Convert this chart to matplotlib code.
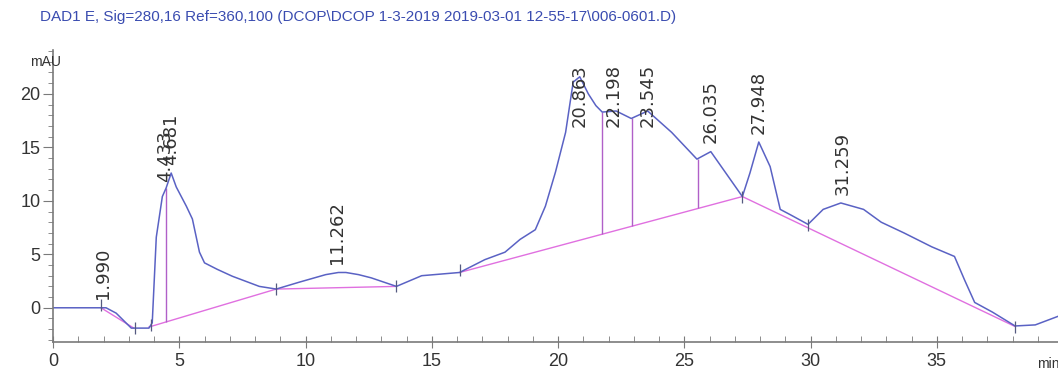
import numpy as np
import matplotlib
matplotlib.use("Agg")
import matplotlib.pyplot as plt
from matplotlib import font_manager

# signal trace (min, mAU)
time = [0, 1.0, 2.1, 2.5, 3.1, 3.8, 3.93, 4.09, 4.33, 4.48, 4.68, 4.88, 5.28, 5.52,
        5.8, 6.0, 6.5, 7.1, 8.17, 8.84, 9.76, 10.8, 11.3, 11.6, 12.1, 12.6, 13.6,
        14.6, 16.1, 17.1, 17.9, 18.5, 19.1, 19.5, 19.9, 20.3, 20.6, 20.86, 21.2,
        21.5, 21.75, 22.3, 22.9, 23.55, 24.5, 25.5, 26.05, 27.3, 27.6, 27.95, 28.4,
        28.8, 29.2, 29.9, 30.5, 31.2, 32.1, 32.8, 33.7, 34.8, 35.7, 36.1, 36.5,
        37.2, 38.1, 38.9, 39.8]
mau = [0, 0, 0, -0.5, -1.9, -1.9, -1.4, 6.6, 10.4, 11.2, 12.6, 11.3, 9.5, 8.3,
       5.2, 4.2, 3.6, 2.95, 2.0, 1.75, 2.4, 3.1, 3.3, 3.3, 3.1, 2.8, 2.0,
       3.0, 3.3, 4.5, 5.2, 6.4, 7.3, 9.5, 12.7, 16.4, 21.1, 21.6, 20.0,
       18.9, 18.3, 18.4, 17.7, 18.4, 16.4, 13.9, 14.6, 10.4, 12.6, 15.5, 13.2,
       9.2, 8.7, 7.8, 9.2, 9.8, 9.2, 8.0, 7.0, 5.7, 4.8, 2.6, 0.5,
       -0.4, -1.7, -1.6, -0.8]

# integration baselines
base_t0 = [1.9, 3.8, 8.84, 16.1, 27.3]
base_t1 = [3.2, 8.84, 13.6, 27.3, 38.1]
base_y0 = [0.0, -1.8, 1.75, 3.3, 10.4]
base_y1 = [-1.9, 1.75, 2.0, 10.4, -1.75]

# drop lines between fused peaks
drop_t = [4.48, 21.75, 22.94, 25.55]
drop_lo = [-1.3, 6.9, 7.65, 9.3]
drop_hi = [11.2, 18.3, 17.7, 13.9]

# baseline event marks
mark_t = [1.9, 3.25, 3.9, 8.84, 13.6, 16.1, 27.3, 29.9, 38.1]
mark_y = [0.3, -1.9, -1.6, 1.75, 2.0, 3.5, 10.4, 7.7, -1.75]

# peak retention times
peaks = [1.990, 4.433, 4.681, 11.262, 20.863, 22.198, 23.545, 26.035, 27.948, 31.259]

title = r"DAD1 E, Sig=280,16 Ref=360,100 (DCOP\DCOP 1-3-2019 2019-03-01 12-55-17\006-0601.D)"

names = {f.name for f in font_manager.fontManager.ttflist}
narrow = "Liberation Sans Narrow" if "Liberation Sans Narrow" in names else "Liberation Sans"

curve_c = "#5a62c4"
base_c = "#e070e0"
drop_c = "#b060c8"
axis_c = "#7a7a7a"

fig = plt.figure(figsize=(10.58, 3.79), dpi=100)
ax = fig.add_axes([0.0501, 0.0976, 0.9499, 0.7704])

for x0, x1, y0, y1 in zip(base_t0, base_t1, base_y0, base_y1):
    ax.plot([x0, x1], [y0, y1], color=base_c, lw=1.0)
ax.vlines(drop_t, drop_lo, drop_hi, color=drop_c, lw=1.0)
ax.plot(time, mau, color=curve_c, lw=1.1)
ax.plot(mark_t, mark_y, ls="none", marker="|", ms=9, mew=0.9, color="#555a80")

for p in peaks:
    h = np.interp(p, time, mau)
    y = min(h + 0.8, 16.9)
    ax.text(p, y, f"{p:.3f}", rotation=90, ha="center", va="bottom",
            fontsize=13, color="#333333", family="DejaVu Sans")

ax.set_xlim(0, 39.8)
ax.set_ylim(-3.2, 24.1)
ax.set_xticks([0, 5, 10, 15, 20, 25, 30, 35])
ax.set_xticks(np.arange(0, 40, 1), minor=True)
ax.set_yticks([0, 5, 10, 15, 20])
ax.set_yticks(np.arange(-3, 25, 1), minor=True)

for s in ["top", "right"]:
    ax.spines[s].set_visible(False)
for s in ["left", "bottom"]:
    ax.spines[s].set_color(axis_c)
    ax.spines[s].set_linewidth(1.2)

ax.tick_params(axis="y", which="major", direction="out", length=7, color=axis_c,
               labelsize=13, pad=2)
ax.tick_params(axis="y", which="minor", direction="out", length=3.5, color=axis_c)
ax.tick_params(axis="x", which="major", direction="inout", length=8, color=axis_c,
               labelsize=13, pad=4)
ax.tick_params(axis="x", which="minor", direction="in", length=4, color=axis_c)
for lab in ax.get_xticklabels() + ax.get_yticklabels():
    lab.set_family(narrow)
    lab.set_color("#333333")

fig.text(0.028, 0.825, "mAU", fontsize=10, family=narrow, color="#333333")
fig.text(0.980, 0.028, "min", fontsize=10, family=narrow, color="#333333")
fig.text(0.038, 0.945, title, fontsize=11, family=narrow, color="#3a4cb0")

fig.savefig("out.png", dpi=100)
